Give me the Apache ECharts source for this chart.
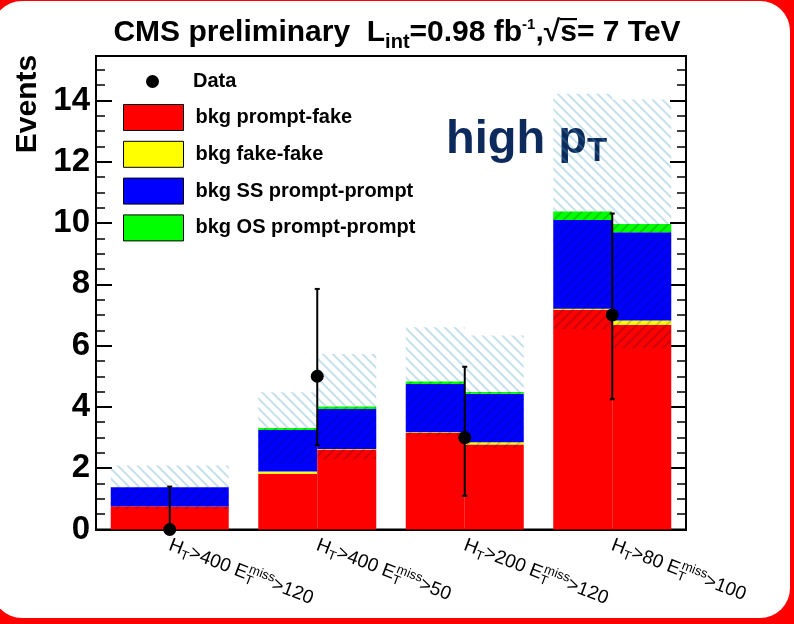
<!DOCTYPE html>
<html>
<head>
<meta charset="utf-8">
<script src="https://cdn.jsdelivr.net/npm/echarts@6/dist/echarts.min.js"></script>
<style>
  html, body { margin: 0; padding: 0; background: #fff; }
  #main { width: 794px; height: 624px; }
</style>
</head>
<body>
<div id="main"></div>
<script>
// Signal-region bins: H_T and E_T^miss thresholds (GeV)
const htCut  = [400, 400, 200, 80];
const metCut = [120, 50, 120, 100];
const categories = htCut.map((h, i) => 'HT>' + h + ' MET>' + metCut[i]);

// Background components, left and right half of every bin (events)
const promptFakeL = [0.76, 1.82, 3.15, 7.17];
const fakeFakeL   = [0.00, 0.07, 0.02, 0.03];
const ssPromptL   = [0.62, 1.36, 1.58, 2.90];
const osPromptL   = [0.00, 0.06, 0.08, 0.28];
const promptFakeR = [0.75, 2.61, 2.77, 6.68];
const fakeFakeR   = [0.00, 0.02, 0.08, 0.14];
const ssPromptR   = [0.63, 1.30, 1.58, 2.88];
const osPromptR   = [0.00, 0.08, 0.06, 0.27];

// Upper edge of the background uncertainty band
const bandUpL = [2.09, 4.48, 6.60, 14.22];
const bandUpR = [2.09, 5.73, 6.33, 14.03];

// Observed events with their error bars
const dataObs  = [0, 5, 3, 7];
const dataLow  = [0, 2.75, 1.10, 4.25];
const dataHigh = [1.40, 7.85, 5.31, 10.31];

// Y axis
const yMax = 15.45;
const yMajor = 2;
const yMinor = 0.5;

const FONT = 'Liberation Sans, Arial, Helvetica, sans-serif';
const r2 = v => Math.round(v * 1000) / 1000;

const totalL = promptFakeL.map((v, i) => v + fakeFakeL[i] + ssPromptL[i] + osPromptL[i]);
const totalR = promptFakeR.map((v, i) => v + fakeFakeR[i] + ssPromptR[i] + osPromptR[i]);
const bandLoL = totalL.map((t, i) => r2(t - (bandUpL[i] - t)));
const bandLoR = totalR.map((t, i) => r2(t - (bandUpR[i] - t)));

function bkg(name, stack, data, color) {
  return {
    type: 'bar', name, stack, data, xAxisIndex: 0, yAxisIndex: 0,
    barGap: '0%', barCategoryGap: '20%',
    itemStyle: { color },
    emphasis: { disabled: true }, silent: true
  };
}

const hatchLight = {
  symbol: 'rect', symbolSize: 1, color: 'rgba(70,160,190,0.32)',
  dashArrayX: [1, 0], dashArrayY: [1.5, 5], rotation: Math.PI / 4
};
const hatchDark = {
  symbol: 'rect', symbolSize: 1, color: 'rgba(0,20,60,0.2)',
  dashArrayX: [1, 0], dashArrayY: [1.5, 5], rotation: -Math.PI / 4
};

function band(stack, data, decal) {
  return {
    type: 'bar', stack, data, xAxisIndex: 1, yAxisIndex: 0,
    barGap: '0%', barCategoryGap: '20%',
    itemStyle: { color: 'rgba(0,0,0,0)', decal: decal },
    emphasis: { disabled: true }, silent: true
  };
}

// Overline for the square root in the title
const overline = document.createElement('canvas');
overline.width = 8; overline.height = 40;
(function () {
  const c = overline.getContext('2d');
  c.fillStyle = '#000';
  c.fillRect(0, 0, 8, 3);
})();

const chart = echarts.init(document.getElementById('main'), null, { renderer: 'canvas' });

const legendText = { fontFamily: FONT, fontWeight: 'bold', fontSize: 20, color: '#000' };

function yAxisDef(position, interval, major, labels) {
  return {
    type: 'value', min: 0, max: yMax, interval, position,
    axisLine: { show: major, lineStyle: { color: '#000', width: 2 } },
    axisTick: { show: true, inside: true, length: major ? 16 : 9, lineStyle: { color: '#000', width: major ? 2 : 1.5 } },
    axisLabel: labels
      ? { fontSize: 33, fontWeight: 'bold', fontFamily: FONT, color: '#000', margin: 6, showMaxLabel: false }
      : { show: false },
    splitLine: { show: false }
  };
}

chart.setOption({
  animation: false,
  backgroundColor: '#ff0000',
  graphic: [
    {
      type: 'rect', z: -100, silent: true,
      shape: { x: -8, y: 1, width: 798, height: 617, r: 30 },
      style: { fill: '#ffffff' }
    },
    {
      type: 'text', x: 28, y: 104, rotation: Math.PI / 2, silent: true,
      style: { text: 'Events', font: 'bold 30px ' + FONT, fill: '#000', align: 'center', verticalAlign: 'middle' }
    },
    {
      type: 'text', x: 446, y: 113, silent: true,
      style: {
        text: '{a|high p}{s|T}',
        rich: {
          a: { fontSize: 47, fontWeight: 'bold', fontFamily: FONT, fill: '#0c2a5c' },
          s: { fontSize: 33, fontWeight: 'bold', fontFamily: FONT, fill: '#0c2a5c', padding: [22, 0, 0, 0] }
        }
      }
    }
  ],
  title: {
    text: '{a|CMS preliminary  L}{s|int}{a|=0.98 fb}{p|-1}{a|,√}{o|s}{a|= 7 TeV}',
    left: 'center', top: 9,
    textStyle: {
      rich: {
        a: { fontSize: 30, fontWeight: 'bold', fontFamily: FONT, color: '#000' },
        s: { fontSize: 20, fontWeight: 'bold', fontFamily: FONT, color: '#000', padding: [18, 0, 0, 0] },
        p: { fontSize: 15, fontWeight: 'bold', fontFamily: FONT, color: '#000', padding: [0, 0, 16, 0] },
        o: { fontSize: 30, fontWeight: 'bold', fontFamily: FONT, color: '#000', backgroundColor: { image: overline } }
      }
    }
  },
  legend: [
    {
      data: [{ name: 'Data', icon: 'circle' }],
      left: 146, top: 71.5, padding: 0, itemWidth: 13, itemHeight: 13,
      selectedMode: false, textStyle: Object.assign({}, legendText, { padding: [0, 0, 0, 29] })
    },
    {
      data: ['bkg prompt-fake', 'bkg fake-fake', 'bkg SS prompt-prompt', 'bkg OS prompt-prompt'],
      orient: 'vertical', left: 123, top: 104, padding: 0, itemWidth: 60, itemHeight: 26, itemGap: 9.8,
      icon: 'rect', itemStyle: { borderColor: '#000', borderWidth: 1 },
      selectedMode: false, textStyle: Object.assign({}, legendText, { padding: [0, 0, 0, 7] })
    }
  ],
  grid: {
    left: 96, right: 108, top: 56, bottom: 94.5,
    show: true, borderColor: '#000', borderWidth: 2, backgroundColor: 'transparent'
  },
  xAxis: [
    {
      type: 'category', data: categories, position: 'bottom',
      axisLine: { lineStyle: { color: '#000', width: 2 } },
      axisTick: { show: false },
      axisLabel: {
        interval: 0, rotate: -21, margin: 15,
        formatter: (v, i) => '{n|H}{s|T}{n|>' + htCut[i] + ' E}{z|T}{p|miss}{n|>' + metCut[i] + '}',
        rich: {
          n: { fontSize: 19, fontFamily: FONT, color: '#000' },
          s: { fontSize: 13, fontFamily: FONT, color: '#000', padding: [11, 0, 0, 0] },
          z: { fontSize: 13, fontFamily: FONT, color: '#000', padding: [11, 0, 0, 0], width: 1 },
          p: { fontSize: 13, fontFamily: FONT, color: '#000', padding: [0, 0, 11, 0] }
        }
      },
      splitLine: { show: false }
    },
    { type: 'category', data: categories, show: false }
  ],
  yAxis: [
    yAxisDef('left', yMajor, true, true),
    yAxisDef('left', yMinor, false, false),
    yAxisDef('right', yMajor, true, false),
    yAxisDef('right', yMinor, false, false)
  ],
  series: [
    bkg('bkg prompt-fake', 'L', promptFakeL, '#ff0000'),
    bkg('bkg fake-fake', 'L', fakeFakeL, '#ffff00'),
    bkg('bkg SS prompt-prompt', 'L', ssPromptL, '#0000ff'),
    bkg('bkg OS prompt-prompt', 'L', osPromptL, '#00ff00'),
    bkg('bkg prompt-fake', 'R', promptFakeR, '#ff0000'),
    bkg('bkg fake-fake', 'R', fakeFakeR, '#ffff00'),
    bkg('bkg SS prompt-prompt', 'R', ssPromptR, '#0000ff'),
    bkg('bkg OS prompt-prompt', 'R', osPromptR, '#00ff00'),

    band('HL', bandLoL, null),
    band('HL', totalL.map((t, i) => r2(t - bandLoL[i])), hatchDark),
    band('HL', bandUpL.map((u, i) => r2(u - totalL[i])), hatchLight),
    band('HR', bandLoR, null),
    band('HR', totalR.map((t, i) => r2(t - bandLoR[i])), hatchDark),
    band('HR', bandUpR.map((u, i) => r2(u - totalR[i])), hatchLight),

    {
      type: 'custom', name: 'Data errors', xAxisIndex: 0, yAxisIndex: 0, silent: true, z: 5,
      data: dataObs.map((v, i) => [i, dataLow[i], dataHigh[i]]),
      encode: { x: 0, y: [1, 2] },
      renderItem: (params, api) => {
        const lo = api.coord([api.value(0), api.value(1)]);
        const hi = api.coord([api.value(0), api.value(2)]);
        const st = { stroke: '#000', lineWidth: 2 };
        return {
          type: 'group',
          children: [
            { type: 'line', shape: { x1: lo[0], y1: lo[1], x2: hi[0], y2: hi[1] }, style: st },
            { type: 'line', shape: { x1: hi[0] - 2.5, y1: hi[1], x2: hi[0] + 2.5, y2: hi[1] }, style: st },
            { type: 'line', shape: { x1: lo[0] - 2.5, y1: lo[1], x2: lo[0] + 2.5, y2: lo[1] }, style: st }
          ]
        };
      }
    },
    {
      type: 'scatter', name: 'Data', xAxisIndex: 0, yAxisIndex: 0, z: 6,
      data: dataObs, symbol: 'circle', symbolSize: 13,
      itemStyle: { color: '#000', opacity: 1 }, emphasis: { disabled: true }, silent: true
    }
  ]
});
</script>
</body>
</html>
